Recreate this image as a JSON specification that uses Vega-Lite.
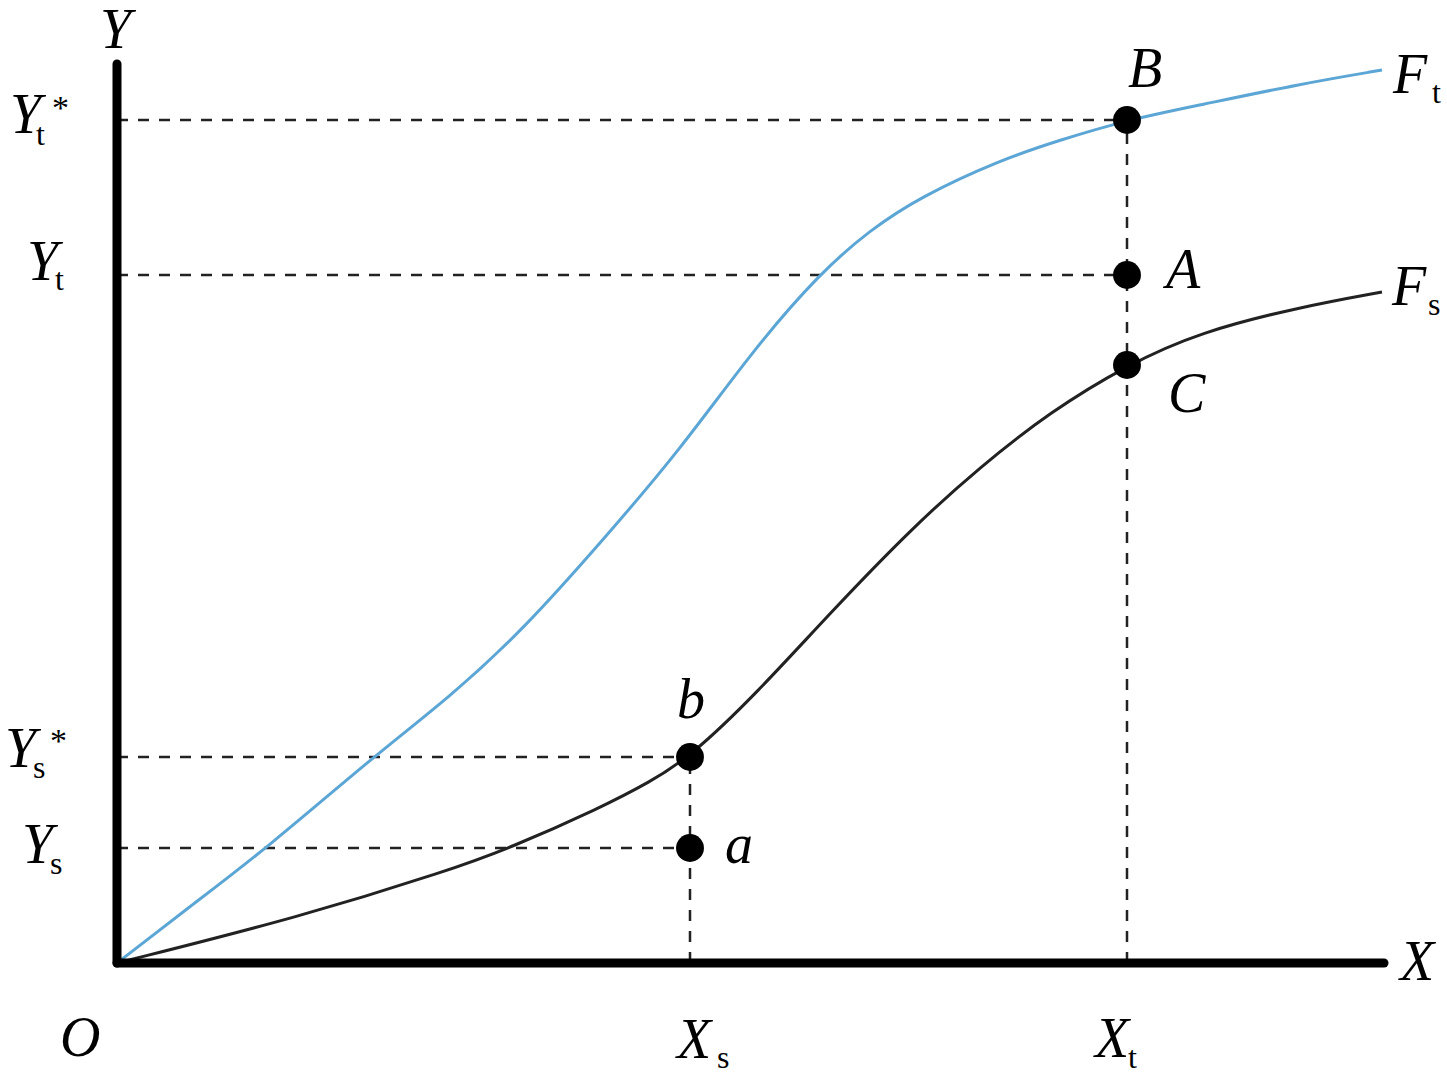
{
  "$schema": "https://vega.github.io/schema/vega-lite/v6.json",
  "width": 1447,
  "height": 1087,
  "autosize": {"type": "none"},
  "padding": 0,
  "background": "white",
  "config": {"view": {"stroke": null}},
  "datasets": {
    "axes": [
      {"x": 0, "y": 0, "x2": 1267, "y2": 0},
      {"x": 0, "y": 0, "x2": 0, "y2": 899}
    ],
    "dashes": [
      {"x": 0, "y": 843, "x2": 1010, "y2": 843},
      {"x": 0, "y": 688, "x2": 1010, "y2": 688},
      {"x": 0, "y": 206, "x2": 573, "y2": 206},
      {"x": 0, "y": 115, "x2": 573, "y2": 115},
      {"x": 1010, "y": 0, "x2": 1010, "y2": 843},
      {"x": 573, "y": 0, "x2": 573, "y2": 206}
    ],
    "curves": [
      {"series": "Ft", "x": 0, "y": 0},
      {"series": "Ft", "x": 75, "y": 58},
      {"series": "Ft", "x": 150, "y": 115},
      {"series": "Ft", "x": 256, "y": 206},
      {"series": "Ft", "x": 333, "y": 266},
      {"series": "Ft", "x": 406, "y": 333},
      {"series": "Ft", "x": 486, "y": 423},
      {"series": "Ft", "x": 563, "y": 513},
      {"series": "Ft", "x": 636, "y": 613},
      {"series": "Ft", "x": 703, "y": 690},
      {"series": "Ft", "x": 753, "y": 733},
      {"series": "Ft", "x": 803, "y": 766},
      {"series": "Ft", "x": 883, "y": 803},
      {"series": "Ft", "x": 943, "y": 823},
      {"series": "Ft", "x": 1010, "y": 843},
      {"series": "Ft", "x": 1083, "y": 858},
      {"series": "Ft", "x": 1183, "y": 879},
      {"series": "Ft", "x": 1265, "y": 893},
      {"series": "Fs", "x": 0, "y": 0},
      {"series": "Fs", "x": 183, "y": 46},
      {"series": "Fs", "x": 333, "y": 93},
      {"series": "Fs", "x": 393, "y": 115},
      {"series": "Fs", "x": 483, "y": 155},
      {"series": "Fs", "x": 533, "y": 181},
      {"series": "Fs", "x": 573, "y": 206},
      {"series": "Fs", "x": 640, "y": 270},
      {"series": "Fs", "x": 713, "y": 350},
      {"series": "Fs", "x": 796, "y": 436},
      {"series": "Fs", "x": 863, "y": 496},
      {"series": "Fs", "x": 933, "y": 551},
      {"series": "Fs", "x": 1010, "y": 598},
      {"series": "Fs", "x": 1083, "y": 631},
      {"series": "Fs", "x": 1183, "y": 656},
      {"series": "Fs", "x": 1265, "y": 671}
    ],
    "points": [
      {"name": "B", "x": 1010, "y": 843},
      {"name": "A", "x": 1010, "y": 688},
      {"name": "C", "x": 1010, "y": 598},
      {"name": "b", "x": 573, "y": 206},
      {"name": "a", "x": 573, "y": 115}
    ],
    "mainLabels": [
      {"t": "Y", "x": -17, "y": 915},
      {"t": "Y", "x": -107, "y": 830},
      {"t": "Y", "x": -90, "y": 683},
      {"t": "Y", "x": -112, "y": 196},
      {"t": "Y", "x": -95, "y": 100},
      {"t": "O", "x": -57, "y": -93},
      {"t": "X", "x": 560, "y": -95},
      {"t": "X", "x": 978, "y": -94},
      {"t": "X", "x": 1283, "y": -17},
      {"t": "B", "x": 1011, "y": 876},
      {"t": "A", "x": 1049, "y": 675},
      {"t": "C", "x": 1051, "y": 551},
      {"t": "F", "x": 1276, "y": 870},
      {"t": "F", "x": 1275, "y": 658},
      {"t": "b", "x": 560, "y": 245},
      {"t": "a", "x": 608, "y": 100}
    ],
    "subLabels": [
      {"t": "t", "x": -81, "y": 818},
      {"t": "t", "x": -62, "y": 673},
      {"t": "s", "x": -84, "y": 185},
      {"t": "s", "x": -67, "y": 89},
      {"t": "s", "x": 600, "y": -105},
      {"t": "t", "x": 1011, "y": -105},
      {"t": "t", "x": 1315, "y": 860},
      {"t": "s", "x": 1311, "y": 648}
    ],
    "stars": [
      {"t": "*", "x": -65, "y": 844},
      {"t": "*", "x": -67, "y": 211}
    ]
  },
  "encoding": {
    "x": {"field": "x", "type": "quantitative", "scale": {"domain": [-117, 1330], "nice": false, "zero": false}, "axis": null},
    "y": {"field": "y", "type": "quantitative", "scale": {"domain": [-124, 963], "nice": false, "zero": false}, "axis": null}
  },
  "layer": [
    {
      "data": {"name": "dashes"},
      "mark": {"type": "rule", "stroke": "#222222", "strokeWidth": 2.5, "strokeDash": [11, 10]},
      "encoding": {"x2": {"field": "x2"}, "y2": {"field": "y2"}}
    },
    {
      "data": {"name": "curves"},
      "mark": {"type": "line", "interpolate": "basis", "strokeWidth": 3},
      "encoding": {
        "color": {"field": "series", "type": "nominal", "scale": {"domain": ["Ft", "Fs"], "range": ["#5ca6d6", "#222222"]}, "legend": null},
        "order": {"field": "x", "type": "quantitative"}
      }
    },
    {
      "data": {"name": "axes"},
      "mark": {"type": "rule", "stroke": "#000000", "strokeWidth": 9, "strokeCap": "round"},
      "encoding": {"x2": {"field": "x2"}, "y2": {"field": "y2"}}
    },
    {
      "data": {"name": "points"},
      "mark": {"type": "circle", "size": 780, "color": "#000000", "opacity": 1}
    },
    {
      "data": {"name": "mainLabels"},
      "mark": {"type": "text", "font": "Liberation Serif", "fontStyle": "italic", "fontSize": 56, "align": "left", "baseline": "alphabetic", "color": "#000000"},
      "encoding": {"text": {"field": "t"}}
    },
    {
      "data": {"name": "subLabels"},
      "mark": {"type": "text", "font": "Liberation Serif", "fontSize": 32, "align": "left", "baseline": "alphabetic", "color": "#000000"},
      "encoding": {"text": {"field": "t"}}
    },
    {
      "data": {"name": "stars"},
      "mark": {"type": "text", "font": "Liberation Serif", "fontSize": 34, "align": "left", "baseline": "alphabetic", "color": "#000000"},
      "encoding": {"text": {"field": "t"}}
    }
  ]
}
